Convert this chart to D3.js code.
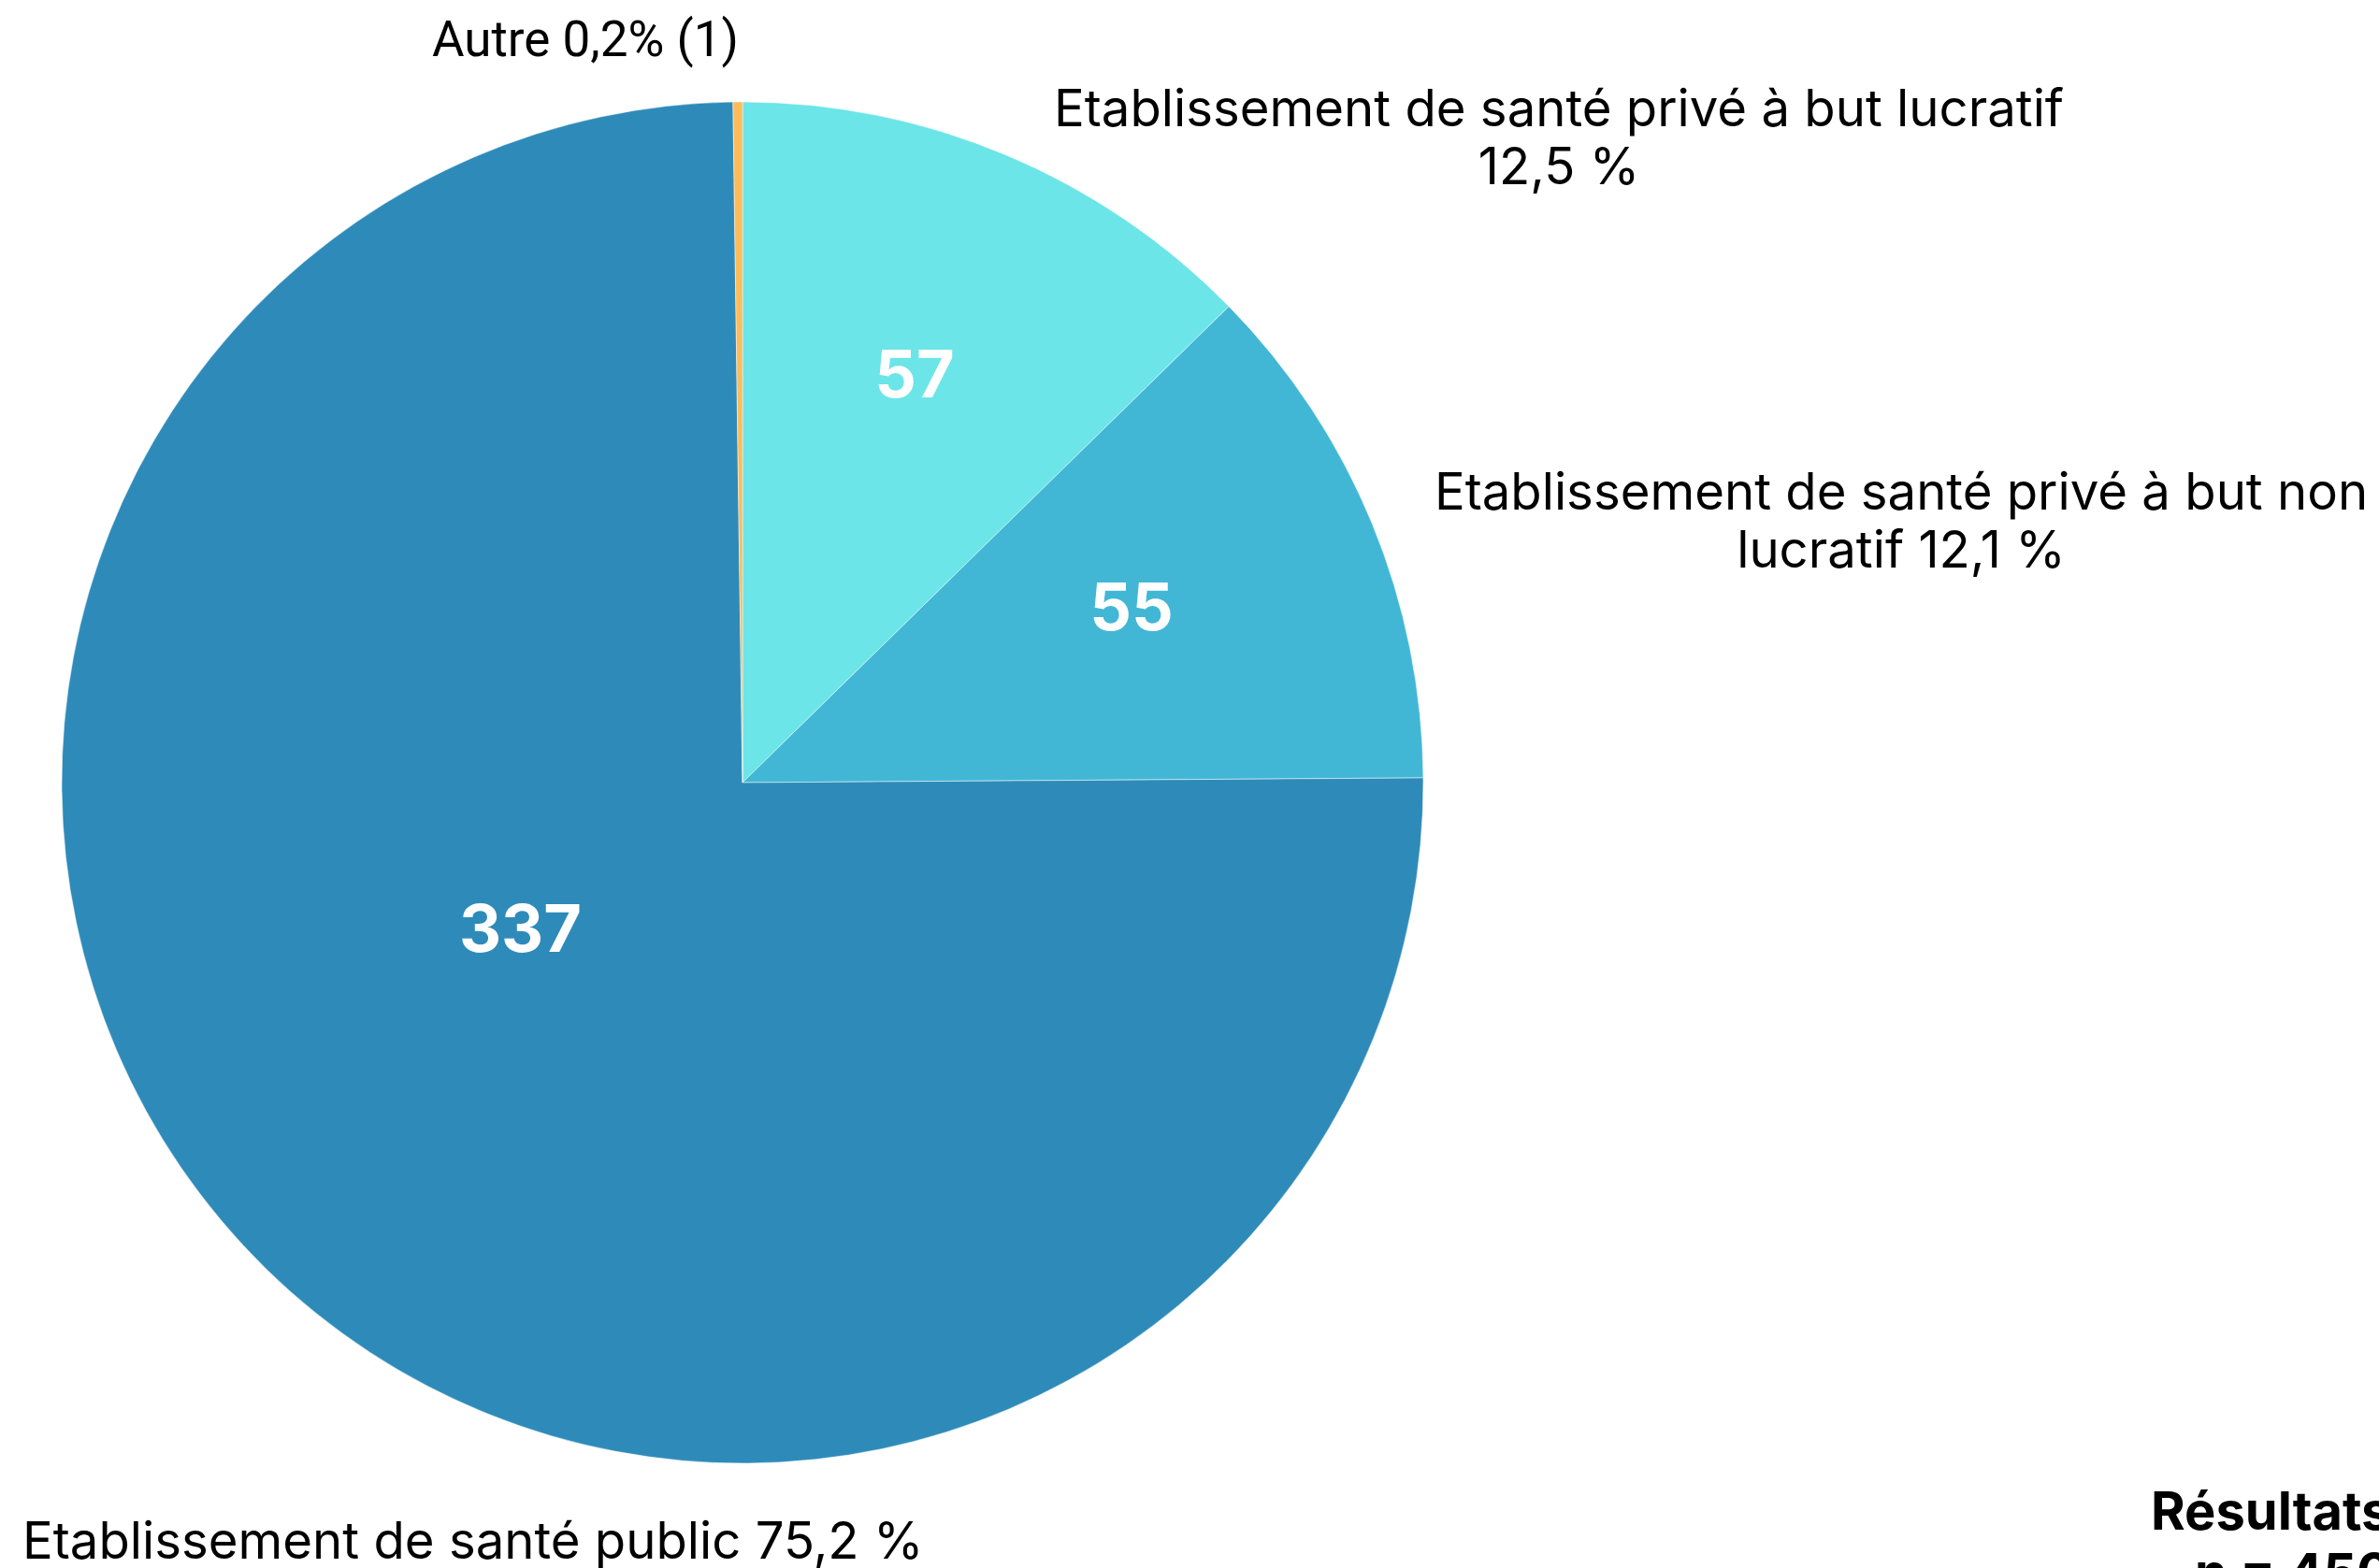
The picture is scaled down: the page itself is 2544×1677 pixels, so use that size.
<!DOCTYPE html>
<html>
<head>
<meta charset="utf-8">
<script src="https://cdn.jsdelivr.net/npm/d3@7"></script>
<style>
  body { margin: 0; background: #fff; overflow: hidden; }
  svg { display: block; }
</style>
</head>
<body>
<div id="chart"></div>
<script>
// data
var categories = ["Etablissement de santé privé à but lucratif",
                  "Etablissement de santé privé à but non lucratif",
                  "Etablissement de santé public",
                  "Autre"];
var counts = [57, 55, 337, 1];
var percents = ["12,5 %", "12,1 %", "75,2 %", "0,2%"];
var colors = ["#6be5e8", "#42b7d5", "#2e8bb9", "#fdbb5a"];
var total = 450;

// label text lines (outside the pie)
var outerLines = [
  ["Etablissement de santé privé à but lucratif", "12,5 %"],
  ["Etablissement de santé privé à but non", "lucratif 12,1 %"],
  ["Etablissement de santé public 75,2 %"],
  ["Autre 0,2% (1)"]
];

var width = 2544, height = 1677;
var cx = 794, cy = 837, radius = 728;

var svg = d3.select("#chart").append("svg")
    .attr("width", width)
    .attr("height", height);

var g = svg.append("g")
    .attr("transform", "translate(" + cx + "," + cy + ")");

var pie = d3.pie().sort(null).value(function(d) { return d; });
var arcs = pie(counts);

var arc = d3.arc().innerRadius(0).outerRadius(radius);

g.selectAll("path.slice")
    .data(arcs)
  .enter().append("path")
    .attr("class", "slice")
    .attr("d", arc)
    .style("fill", function(d, i) { return colors[i]; })
    .style("stroke", "#ffffff")
    .style("stroke-width", 0.8)
    .style("stroke-opacity", 0.6);

// value labels inside slices (radius factor, angle shift in degrees)
var innerPlace = [[0.652, 0], [0.627, -1.9], [0.39, 12.4]];
arcs.forEach(function(d, i) {
  if (i > 2) return;
  var a = (d.startAngle + d.endAngle) / 2 + innerPlace[i][1] * Math.PI / 180;
  var r = radius * innerPlace[i][0];
  g.append("text")
      .attr("x", r * Math.sin(a))
      .attr("y", -r * Math.cos(a))
      .attr("dy", "0.36em")
      .attr("text-anchor", "middle")
      .style("font-family", "Inter, 'Noto Sans', sans-serif")
      .style("font-weight", 700)
      .style("font-size", "70px")
      .style("fill", "#ffffff")
      .text(d.value);
});

// outer labels: anchor x, first baseline y (page coordinates)
var outerPlace = [
  {x: 1667, y: 135, anchor: "middle"},
  {x: 2033, y: 545, anchor: "middle"},
  {x: 24, y: 1667, anchor: "start"},
  {x: 462, y: 60, anchor: "start"}
];
outerLines.forEach(function(lines, i) {
  var p = outerPlace[i];
  var t = svg.append("text")
      .attr("x", p.x)
      .attr("y", p.y)
      .attr("text-anchor", p.anchor)
      .style("font-family", i == 3 ? "Roboto, sans-serif" : "Inter, sans-serif")
      .style("font-size", i == 3 ? "53px" : "54.5px")
      .style("fill", "#000");
  lines.forEach(function(l, j) {
    t.append("tspan")
        .attr("x", p.x)
        .attr("dy", j == 0 ? 0 : 62)
        .text(l);
  });
});

// footer
var foot = svg.append("text")
    .style("font-family", "Inter, sans-serif")
    .style("font-weight", 700)
    .style("font-size", "56px")
    .style("fill", "#000");
foot.append("tspan").attr("x", 2300).attr("y", 1636).text("Résultats globaux");
foot.append("tspan").attr("x", 2347).attr("y", 1702).text("n = " + total);
</script>
</body>
</html>
